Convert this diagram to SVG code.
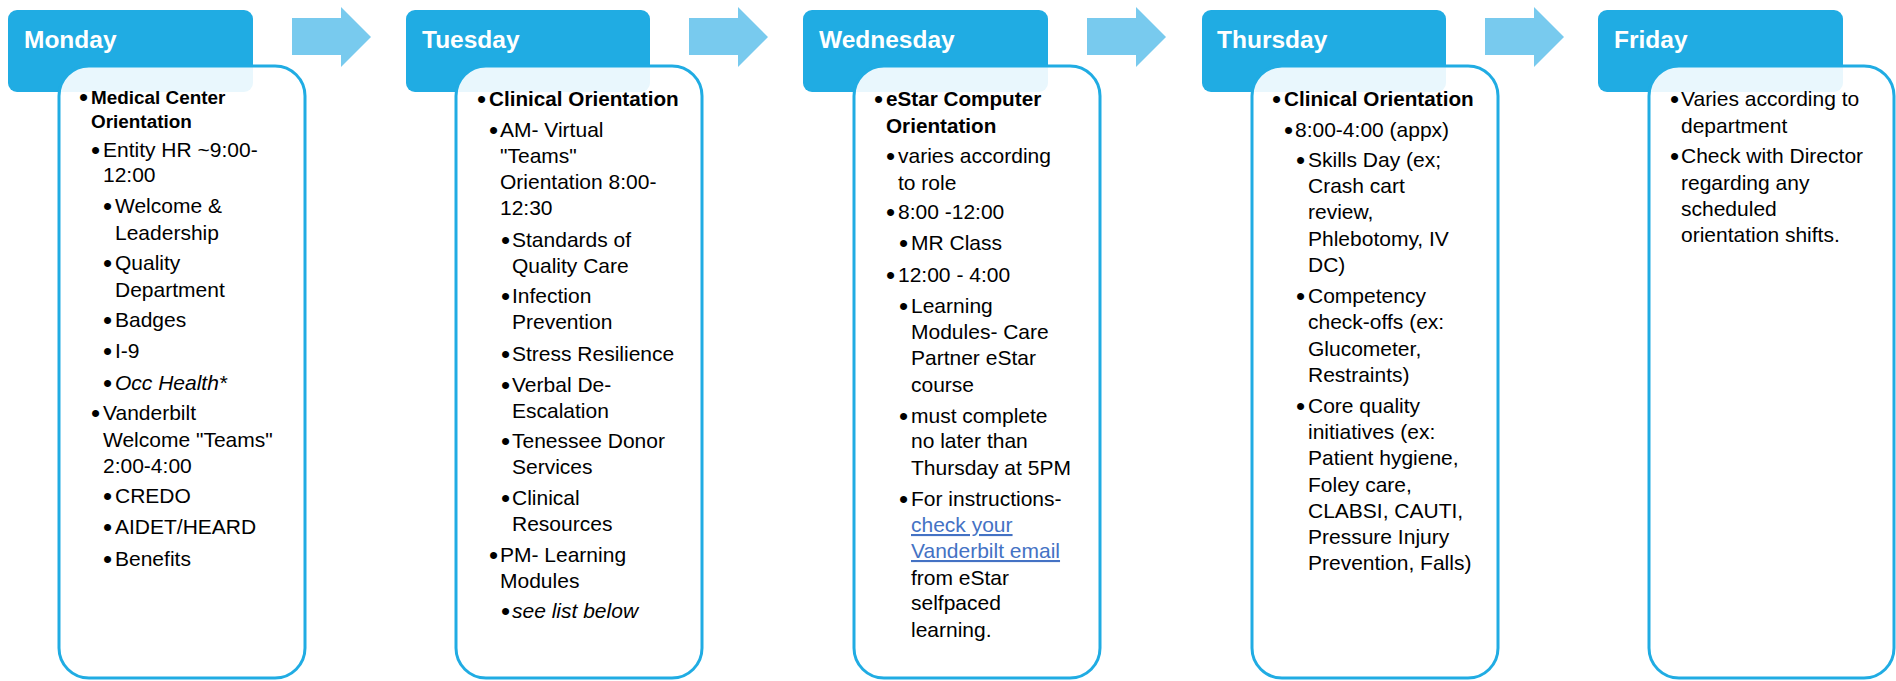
<svg xmlns="http://www.w3.org/2000/svg" width="1896" height="681" viewBox="0 0 1896 681">
<style>
.hdr{fill:#20ACE3}
.body{fill:#FFFFFF;fill-opacity:0.9;stroke:#20ACE3;stroke-width:3}
.arr{fill:#78CAEE}
text{font-family:"Liberation Sans",Arial,sans-serif;fill:#000000}
.h{font-size:24.5px;font-weight:bold;fill:#FFFFFF}
.t{font-size:21px}
.b{font-size:20.7px;font-weight:bold}
.bm{font-size:18.9px;font-weight:bold}
.i{font-style:italic}
.lnk{fill:#4472C4;text-decoration:underline}
.bl{font-size:26px}
</style>
<g id="connectors">
<polygon class="arr" points="292,18 341,18 341,7 371,37 341,67 341,55 292,55"/>
<polygon class="arr" points="689,18 738,18 738,7 768,37 738,67 738,55 689,55"/>
<polygon class="arr" points="1087,18 1136,18 1136,7 1166,37 1136,67 1136,55 1087,55"/>
<polygon class="arr" points="1485,18 1534,18 1534,7 1564,37 1534,67 1534,55 1485,55"/>
</g>
<g id="monday">
<rect class="hdr" x="8" y="10" width="245" height="82" rx="9"/>
<text class="h" x="24" y="48">Monday</text>
<rect class="body" x="59" y="66" width="246" height="612" rx="30"/>
<g class="t">
<text class="bl" x="79" y="106">•</text><text class="bm" x="91" y="104">Medical Center</text>
<text class="bm" x="91" y="128">Orientation</text>
<text class="bl" x="91" y="159">•</text><text x="103" y="157">Entity HR ~9:00-</text>
<text x="103" y="182">12:00</text>
<text class="bl" x="103" y="215">•</text><text x="115" y="213">Welcome &amp;</text>
<text x="115" y="240">Leadership</text>
<text class="bl" x="103" y="272">•</text><text x="115" y="270">Quality</text>
<text x="115" y="297">Department</text>
<text class="bl" x="103" y="329">•</text><text x="115" y="327">Badges</text>
<text class="bl" x="103" y="360">•</text><text x="115" y="358">I-9</text>
<text class="bl" x="103" y="392">•</text><text class="i" x="115" y="390">Occ Health*</text>
<text class="bl" x="91" y="422">•</text><text x="103" y="420">Vanderbilt</text>
<text x="103" y="447">Welcome "Teams"</text>
<text x="103" y="473">2:00-4:00</text>
<text class="bl" x="103" y="505">•</text><text x="115" y="503">CREDO</text>
<text class="bl" x="103" y="536">•</text><text x="115" y="534">AIDET/HEARD</text>
<text class="bl" x="103" y="568">•</text><text x="115" y="566">Benefits</text>
</g>
</g>
<g id="tuesday">
<rect class="hdr" x="406" y="10" width="244" height="82" rx="9"/>
<text class="h" x="422" y="48">Tuesday</text>
<rect class="body" x="456" y="66" width="246" height="612" rx="30"/>
<g class="t">
<text class="bl" x="477" y="108">•</text><text class="b" x="489" y="106">Clinical Orientation</text>
<text class="bl" x="489" y="139">•</text><text x="500" y="137">AM- Virtual</text>
<text x="500" y="163">"Teams"</text>
<text x="500" y="189">Orientation 8:00-</text>
<text x="500" y="215">12:30</text>
<text class="bl" x="501" y="249">•</text><text x="512" y="247">Standards of</text>
<text x="512" y="273">Quality Care</text>
<text class="bl" x="501" y="305">•</text><text x="512" y="303">Infection</text>
<text x="512" y="329">Prevention</text>
<text class="bl" x="501" y="363">•</text><text x="512" y="361">Stress Resilience</text>
<text class="bl" x="501" y="394">•</text><text x="512" y="392">Verbal De-</text>
<text x="512" y="418">Escalation</text>
<text class="bl" x="501" y="450">•</text><text x="512" y="448">Tenessee Donor</text>
<text x="512" y="474">Services</text>
<text class="bl" x="501" y="507">•</text><text x="512" y="505">Clinical</text>
<text x="512" y="531">Resources</text>
<text class="bl" x="489" y="564">•</text><text x="500" y="562">PM- Learning</text>
<text x="500" y="588">Modules</text>
<text class="bl" x="501" y="620">•</text><text class="i" x="512" y="618">see list below</text>
</g>
</g>
<g id="wednesday">
<rect class="hdr" x="803" y="10" width="245" height="82" rx="9"/>
<text class="h" x="819" y="48">Wednesday</text>
<rect class="body" x="854" y="66" width="246" height="612" rx="30"/>
<g class="t">
<text class="bl" x="874" y="108">•</text><text class="b" x="886" y="106">eStar Computer</text>
<text class="b" x="886" y="133">Orientation</text>
<text class="bl" x="886" y="165">•</text><text x="898" y="163">varies according</text>
<text x="898" y="190">to role</text>
<text class="bl" x="886" y="221">•</text><text x="898" y="219">8:00 -12:00</text>
<text class="bl" x="899" y="252">•</text><text x="911" y="250">MR Class</text>
<text class="bl" x="886" y="284">•</text><text x="898" y="282">12:00 - 4:00</text>
<text class="bl" x="899" y="315">•</text><text x="911" y="313">Learning</text>
<text x="911" y="339">Modules- Care</text>
<text x="911" y="365">Partner eStar</text>
<text x="911" y="392">course</text>
<text class="bl" x="899" y="425">•</text><text x="911" y="423">must complete</text>
<text x="911" y="448">no later than</text>
<text x="911" y="475">Thursday at 5PM</text>
<text class="bl" x="899" y="508">•</text><text x="911" y="506">For instructions-</text>
<text class="lnk" x="911" y="532">check your</text>
<text class="lnk" x="911" y="558">Vanderbilt email</text>
<text x="911" y="585">from eStar</text>
<text x="911" y="610">selfpaced</text>
<text x="911" y="637">learning.</text>
</g>
</g>
<g id="thursday">
<rect class="hdr" x="1202" y="10" width="244" height="82" rx="9"/>
<text class="h" x="1217" y="48">Thursday</text>
<rect class="body" x="1252" y="66" width="246" height="612" rx="30"/>
<g class="t">
<text class="bl" x="1272" y="108">•</text><text class="b" x="1284" y="106">Clinical Orientation</text>
<text class="bl" x="1284" y="139">•</text><text x="1295" y="137">8:00-4:00 (appx)</text>
<text class="bl" x="1296" y="169">•</text><text x="1308" y="167">Skills Day (ex;</text>
<text x="1308" y="193">Crash cart</text>
<text x="1308" y="219">review,</text>
<text x="1308" y="246">Phlebotomy, IV</text>
<text x="1308" y="272">DC)</text>
<text class="bl" x="1296" y="305">•</text><text x="1308" y="303">Competency</text>
<text x="1308" y="329">check-offs (ex:</text>
<text x="1308" y="356">Glucometer,</text>
<text x="1308" y="382">Restraints)</text>
<text class="bl" x="1296" y="415">•</text><text x="1308" y="413">Core quality</text>
<text x="1308" y="439">initiatives (ex:</text>
<text x="1308" y="465">Patient hygiene,</text>
<text x="1308" y="492">Foley care,</text>
<text x="1308" y="518">CLABSI, CAUTI,</text>
<text x="1308" y="544">Pressure Injury</text>
<text x="1308" y="570">Prevention, Falls)</text>
</g>
</g>
<g id="friday">
<rect class="hdr" x="1598" y="10" width="245" height="82" rx="9"/>
<text class="h" x="1614" y="48">Friday</text>
<rect class="body" x="1649" y="66" width="245" height="612" rx="30"/>
<g class="t">
<text class="bl" x="1670" y="108">•</text><text x="1681" y="106">Varies according to</text>
<text x="1681" y="133">department</text>
<text class="bl" x="1670" y="165">•</text><text x="1681" y="163">Check with Director</text>
<text x="1681" y="190">regarding any</text>
<text x="1681" y="216">scheduled</text>
<text x="1681" y="242">orientation shifts.</text>
</g>
</g>
</svg>
